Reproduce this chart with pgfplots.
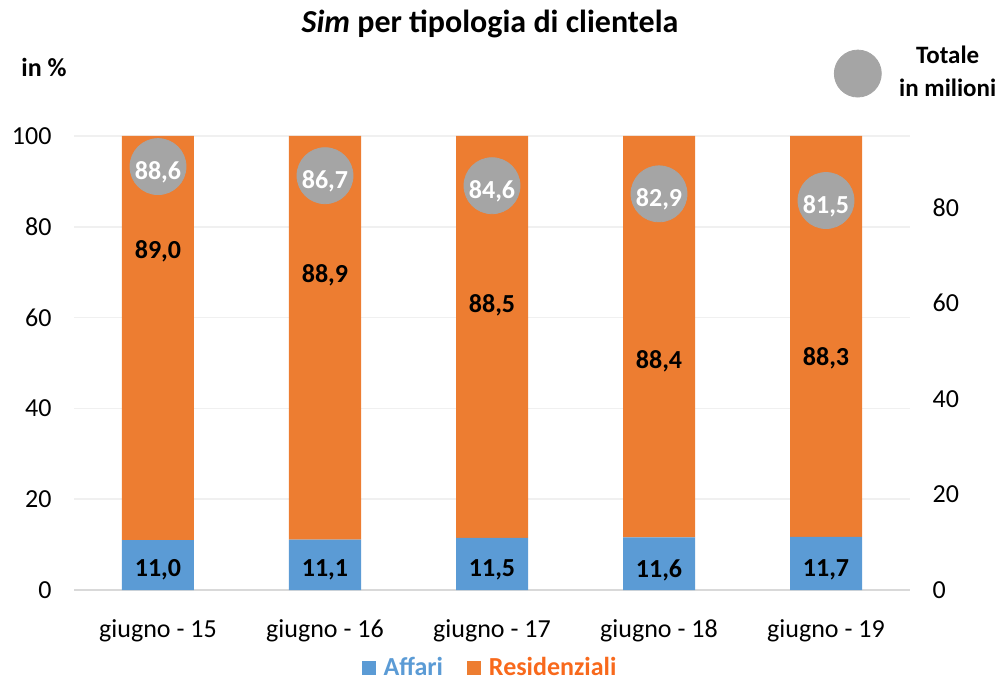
\documentclass[border=0pt]{standalone}
\usepackage{pgfplots}
\pgfplotsset{compat=1.18}
\usepackage{fontspec}
\setmainfont{Carlito}
\definecolor{cBlue}{RGB}{91,155,213}
\definecolor{cOrange}{RGB}{237,125,49}
\definecolor{cGray}{RGB}{165,165,165}
\definecolor{cGrid}{RGB}{240,240,240}
\definecolor{cAxis}{RGB}{217,217,217}
\definecolor{cOrangeTxt}{RGB}{248,105,28}
\newcommand{\fs}{\fontsize{13}{15.6}\selectfont}
\begin{document}
\begin{tikzpicture}[font=\fs]
\path[use as bounding box] (-37.25pt,-48pt) rectangle (462.75pt,295pt);
\pgfplotsset{every axis/.append style={scale only axis, width=417.5pt, height=227pt,
  xmin=-0.5, xmax=4.5, tick label style={font=\fs},
  /pgf/number format/assume math mode=true}}
% bars
\begin{axis}[
  ybar stacked, bar width=36pt,
  ymin=0, ymax=100, ytick={0,20,...,100},
  xtick={0,...,4},
  xticklabels={giugno - 15, giugno - 16, giugno - 17, giugno - 18, giugno - 19},
  axis x line*=bottom, axis y line*=left,
  y axis line style={draw=none},
  x axis line style={draw=cAxis, line width=1pt, -},
  major tick length=0pt,
  ymajorgrids, grid style={draw=cGrid, line width=0.75pt},
  yticklabel style={xshift=-8pt},
  xticklabel style={yshift=-11.5pt},
  title={\fontsize{16}{19}\selectfont\bfseries\textit{Sim} per tipologia di clientela},
  title style={at={(axis description cs:0.4976,1)}, anchor=center, yshift=50pt},
  ylabel={\bfseries in \%},
  ylabel style={at={(axis description cs:-0.0365,1.152)}, rotate=-90, anchor=center},
  legend style={at={(axis description cs:0.4988,-0.1718)}, anchor=center, draw=none, fill=none,
    legend columns=-1, nodes={inner sep=2pt},
    /tikz/every odd column/.append style={column sep=2pt},
    /tikz/every even column/.append style={column sep=10pt}},
  legend image code/.code={\fill[#1] (0pt,-3.5pt) rectangle (7pt,3.5pt);},
]
\addplot[fill=cBlue, draw=none] coordinates {(0,11.0) (1,11.1) (2,11.5) (3,11.6) (4,11.7)};
\addlegendentry{\textcolor{cBlue}{\bfseries Affari}}
\addplot[fill=cOrange, draw=none] coordinates {(0,89.0) (1,88.9) (2,88.5) (3,88.4) (4,88.3)};
\addlegendentry{\textcolor{cOrangeTxt}{\bfseries Residenziali}}
\end{axis}
% labels of the bars
\begin{axis}[hide axis, ymin=0, ymax=100]
\addplot[draw=none, point meta=explicit,
  nodes near coords={\pgfmathprintnumber[fixed,fixed zerofill,precision=1,use comma,assume math mode=true]{\pgfplotspointmeta}},
  nodes near coords align={center},
  every node near coord/.append style={font=\fs\bfseries, text=black}]
  table[x=x, y=y, meta=v] {
x y v
0 4.4 11.0
1 4.4 11.1
2 4.4 11.5
3 4.4 11.6
4 4.4 11.7
0 74.5 89.0
1 69.3 88.9
2 62.8 88.5
3 50.3 88.4
4 51.0 88.3
};
\end{axis}
% totals on the right axis
\begin{axis}[
  axis y line*=right, axis x line=none,
  y axis line style={draw=none},
  ymin=0, ymax=95, ytick={0,20,...,80},
  major tick length=0pt,
  yticklabel style={xshift=8pt},
  legend style={at={(axis description cs:0.909,1.1476)}, anchor=west, draw=none, fill=none,
    inner sep=0pt, nodes={inner sep=0pt},
    /tikz/every odd column/.append style={column sep=8.75pt}},
]
\addplot[only marks, mark=*, mark size=14pt, color=cGray, mark options={draw=none, fill=cGray},
  point meta=y,
  nodes near coords={\pgfmathprintnumber[fixed,fixed zerofill,precision=1,use comma,assume math mode=true]{\pgfplotspointmeta}},
  nodes near coords align={center},
  every node near coord/.append style={font=\fs\bfseries, text=white, yshift=-2.8pt},
  legend image code/.code={\fill[cGray] (0pt,-6pt) circle (11.75pt);}]
  coordinates {(0,88.6) (1,86.7) (2,84.6) (3,82.9) (4,81.5)};
\addlegendentry{\fontsize{12.5}{16.5}\selectfont\bfseries\begin{tabular}{@{}c@{}}Totale\\in milioni\end{tabular}}
\end{axis}
\end{tikzpicture}
\end{document}
